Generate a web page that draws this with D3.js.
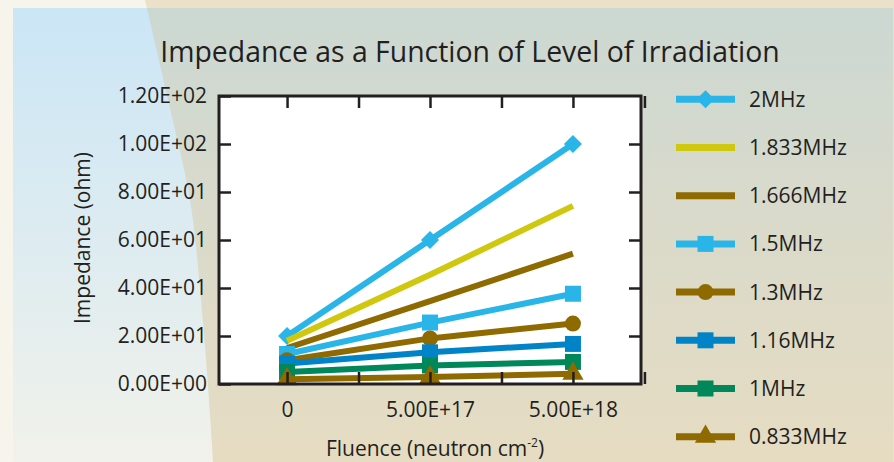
<!DOCTYPE html>
<html>
<head>
<meta charset="utf-8">
<script src="https://cdn.jsdelivr.net/npm/d3@7/dist/d3.min.js"></script>
<style>
  html, body { margin: 0; padding: 0; background: #f7f4ec; }
  svg { display: block; }
  text { font-family: "Open Sans", "Noto Sans", sans-serif; fill: #231f20; }
</style>
</head>
<body>
<svg id="chart" width="894" height="462"></svg>
<script>
// Fluence categories and y-axis tick labels
const categories = ["0", "5.00E+17", "5.00E+18"];
const yTickValues = [0, 20, 40, 60, 80, 100, 120];
const yTickLabels = ["0.00E+00", "2.00E+01", "4.00E+01", "6.00E+01", "8.00E+01", "1.00E+02", "1.20E+02"];

// Impedance (ohm) per frequency, one value per fluence category
const seriesNames = ["2MHz", "1.833MHz", "1.666MHz", "1.5MHz", "1.3MHz", "1.16MHz", "1MHz", "0.833MHz"];
const z2MHz    = [20.0, 60.0, 100.0];
const z1833MHz = [18.0, 45.5, 74.2];
const z1666MHz = [15.0, 34.5, 54.3];
const z15MHz   = [12.5, 25.6, 37.6];
const z13MHz   = [9.9, 19.0, 25.2];
const z116MHz  = [8.5, 13.2, 16.7];
const z1MHz    = [5.0, 7.7, 9.2];
const z0833MHz = [2.0, 2.9, 4.3];
const seriesValues = [z2MHz, z1833MHz, z1666MHz, z15MHz, z13MHz, z116MHz, z1MHz, z0833MHz];

const seriesColors = ["#29b5e8", "#cfc80f", "#8e6a00", "#29b5e8", "#8e6a00", "#0084c7", "#00875a", "#8e6a00"];
const seriesMarkers = ["diamond", null, null, "square", "circle", "square", "square", "triangle"];

const svg = d3.select("#chart");
const W = 894, H = 462;

// ---- background panels ----
const defs = svg.append("defs");
const gBlue = defs.append("linearGradient").attr("id", "bgBlue").attr("x1", 0).attr("y1", 0).attr("x2", 0).attr("y2", 1);
gBlue.append("stop").attr("offset", "0%").attr("stop-color", "#cbe6f6");
gBlue.append("stop").attr("offset", "55%").attr("stop-color", "#dfecf0");
gBlue.append("stop").attr("offset", "100%").attr("stop-color", "#f1f2ea");
const gSand = defs.append("linearGradient").attr("id", "bgSand").attr("x1", 0).attr("y1", 0).attr("x2", 0).attr("y2", 1);
gSand.append("stop").attr("offset", "0%").attr("stop-color", "#cbd8d3");
gSand.append("stop").attr("offset", "45%").attr("stop-color", "#d9dacb");
gSand.append("stop").attr("offset", "100%").attr("stop-color", "#e6dcc2");

// outer frame
svg.append("rect").attr("width", W).attr("height", H).attr("fill", "#f7f4ec");
// beige strip above the panel, right of the curved edge
const edgePts = [[145, 0], [168, 100], [190, 200], [201, 300], [209, 400], [213, 462]];
const edgeLine = d3.line().curve(d3.curveMonotoneY);
svg.append("path")
  .attr("d", edgeLine(edgePts) + `L${W},462L${W},0Z`)
  .attr("fill", "#ebe1c8");

// main panel
const panel = { x: 13, y: 8, w: 880, h: 454 };
svg.append("rect").attr("x", panel.x).attr("y", panel.y).attr("width", panel.w).attr("height", panel.h)
  .attr("fill", "url(#bgBlue)");
const clip = defs.append("clipPath").attr("id", "panelClip");
clip.append("rect").attr("x", panel.x).attr("y", panel.y).attr("width", panel.w).attr("height", panel.h);
svg.append("path")
  .attr("clip-path", "url(#panelClip)")
  .attr("d", edgeLine(edgePts) + `L${W},462L${W},0Z`)
  .attr("fill", "url(#bgSand)");

// ---- plot area ----
const plot = { left: 219, right: 641, top: 96, bottom: 384 };
const x = d3.scaleLinear().domain([-0.476, categories.length - 1 + 0.476]).range([plot.left, plot.right]);
const y = d3.scaleLinear().domain([0, 120]).range([plot.bottom, plot.top]);

svg.append("rect")
  .attr("x", plot.left).attr("y", plot.top)
  .attr("width", plot.right - plot.left).attr("height", plot.bottom - plot.top)
  .attr("fill", "#ffffff");

// marker shapes
const diamond = {
  draw(ctx, size) {
    const r = Math.sqrt(size / 2);
    ctx.moveTo(0, -r); ctx.lineTo(r, 0); ctx.lineTo(0, r); ctx.lineTo(-r, 0); ctx.closePath();
  }
};
const markerSymbol = {
  diamond: d3.symbol().type(diamond).size(162),
  square: d3.symbol().type(d3.symbolSquare).size(256),
  circle: d3.symbol().type(d3.symbolCircle).size(200),
  triangle: d3.symbol().type(d3.symbolTriangle).size(195)
};

const line = d3.line().x((d, i) => x(i)).y(d => y(d));
const seriesG = svg.append("g");
seriesValues.forEach((vals, si) => {
  const g = seriesG.append("g");
  g.append("path").attr("d", line(vals))
    .attr("fill", "none").attr("stroke", seriesColors[si])
    .attr("stroke-width", 6).attr("stroke-linejoin", "round");
  const m = seriesMarkers[si];
  if (m) {
    g.selectAll("path.mk").data(vals).join("path").attr("class", "mk")
      .attr("transform", (d, i) => `translate(${x(i)},${y(d)})`)
      .attr("d", markerSymbol[m]())
      .attr("fill", seriesColors[si]);
  }
});

// ---- axes (frame with inward ticks on all sides) ----
const axisColor = "#231f20";
const tickLen = 12;
const yAxisL = d3.axisLeft(y).tickValues(yTickValues).tickSize(-tickLen).tickFormat((d, i) => yTickLabels[i]).tickPadding(12);
const gyl = svg.append("g").attr("transform", `translate(${plot.left},0)`).call(yAxisL);
gyl.select(".domain").remove();
gyl.selectAll(".tick line").attr("stroke", axisColor).attr("stroke-width", 2.5);
gyl.selectAll(".tick text").attr("font-size", 21).attr("fill", axisColor)
  .attr("font-family", "'Open Sans', sans-serif");

const yAxisR = d3.axisRight(y).tickValues(yTickValues.slice(1, -1)).tickSize(-tickLen).tickFormat("");
const gyr = svg.append("g").attr("transform", `translate(${plot.right},0)`).call(yAxisR);
gyr.select(".domain").remove();
gyr.selectAll(".tick line").attr("stroke", axisColor).attr("stroke-width", 2.5);

const xTickPos = d3.range(0, categories.length - 0.5 + 0.01, 0.5);
const xAxisB = d3.axisBottom(x).tickValues(xTickPos).tickSize(-tickLen)
  .tickFormat(d => Number.isInteger(d) ? categories[d] : "").tickPadding(18);
const gxb = svg.append("g").attr("transform", `translate(0,${plot.bottom})`).call(xAxisB);
gxb.select(".domain").remove();
gxb.selectAll(".tick line").attr("stroke", axisColor).attr("stroke-width", 2.5);
gxb.selectAll(".tick text").attr("font-size", 21).attr("fill", axisColor)
  .attr("font-family", "'Open Sans', sans-serif");

const xAxisT = d3.axisTop(x).tickValues(xTickPos).tickSize(-tickLen).tickFormat("");
const gxt = svg.append("g").attr("transform", `translate(0,${plot.top})`).call(xAxisT);
gxt.select(".domain").remove();
gxt.selectAll(".tick line").attr("stroke", axisColor).attr("stroke-width", 2.5);

svg.append("rect")
  .attr("x", plot.left).attr("y", plot.top)
  .attr("width", plot.right - plot.left).attr("height", plot.bottom - plot.top)
  .attr("fill", "none").attr("stroke", axisColor).attr("stroke-width", 3);

// ---- titles ----
svg.append("text").attr("x", 470).attr("y", 62).attr("text-anchor", "middle")
  .attr("font-size", 28.4).text("Impedance as a Function of Level of Irradiation");

svg.append("text").attr("transform", "translate(90,238) rotate(-90)").attr("text-anchor", "middle")
  .attr("font-size", 21).text("Impedance (ohm)");

const xt = svg.append("text").attr("x", 435).attr("y", 456).attr("text-anchor", "middle").attr("font-size", 21);
xt.append("tspan").text("Fluence (neutron cm");
xt.append("tspan").attr("font-size", 12).attr("dy", -9).text("-2");
xt.append("tspan").attr("dy", 9).text(")");

// ---- legend ----
const legend = svg.append("g");
const legY0 = 99.3, legStep = 48.2;
seriesNames.forEach((name, si) => {
  const ly = legY0 + si * legStep;
  const g = legend.append("g").attr("transform", `translate(0,${ly})`);
  g.append("line").attr("x1", 676).attr("x2", 735).attr("y1", 0).attr("y2", 0)
    .attr("stroke", seriesColors[si]).attr("stroke-width", 7);
  const m = seriesMarkers[si];
  if (m) {
    g.append("path").attr("transform", "translate(705.5,0)")
      .attr("d", markerSymbol[m]()).attr("fill", seriesColors[si]);
  }
  g.append("text").attr("x", 749).attr("y", 0).attr("dy", "0.36em")
    .attr("font-size", 21).text(name);
});
</script>
</body>
</html>
